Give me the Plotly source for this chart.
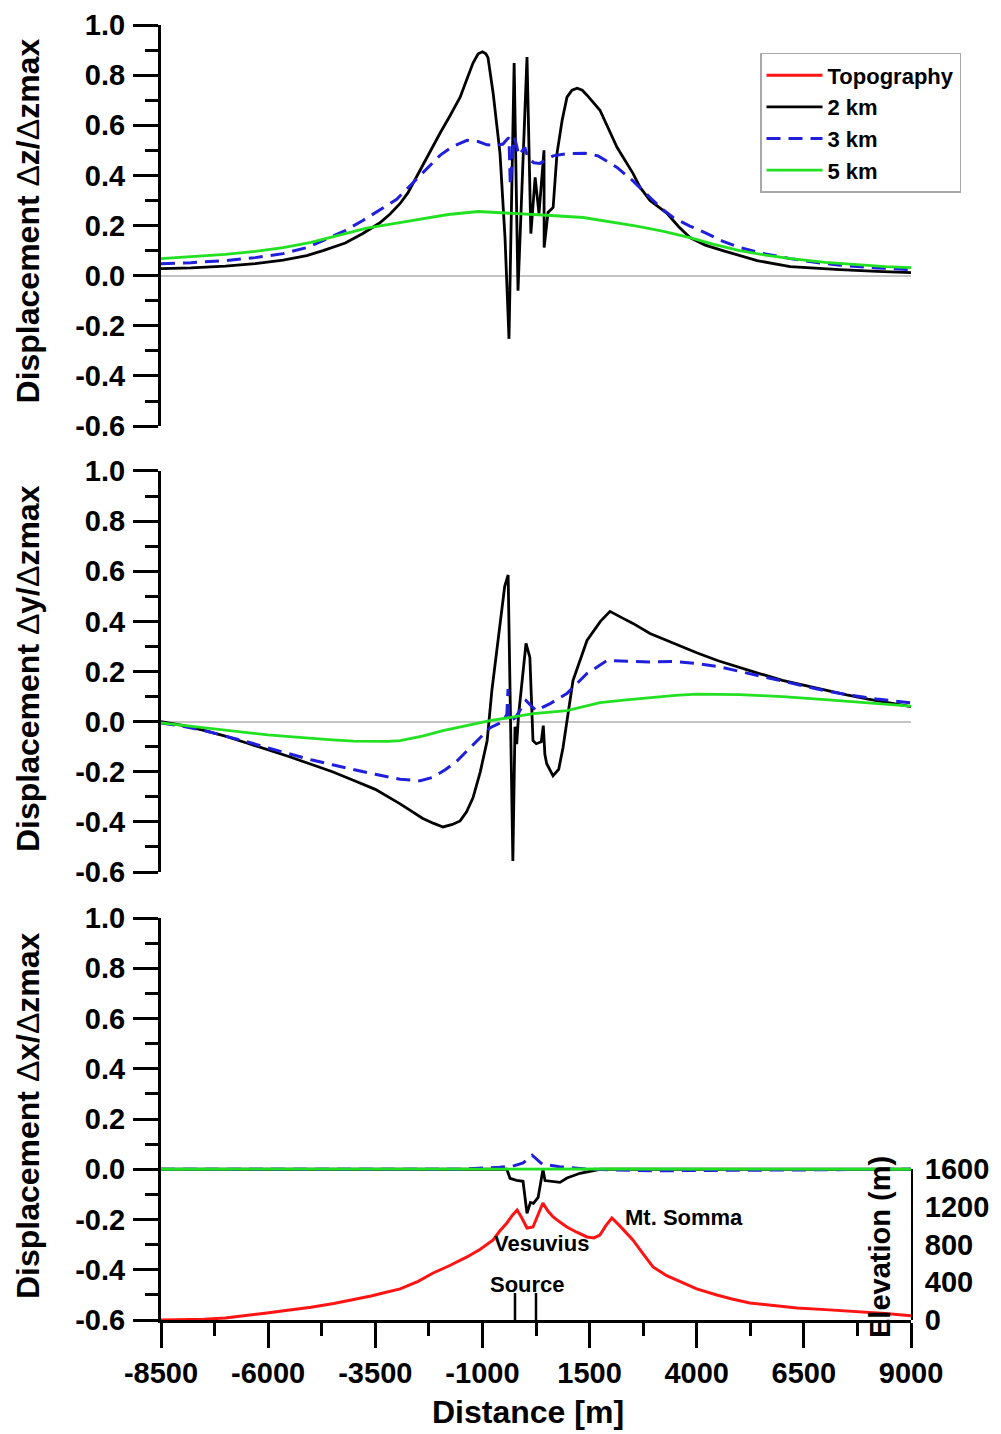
import plotly.graph_objects as go

# ---------------- tick labels ----------------
x_tickvals = [-8500, -6000, -3500, -1000, 1500, 4000, 6500, 9000]
x_ticktext = ["-8500", "-6000", "-3500", "-1000", "1500", "4000", "6500", "9000"]
y_tickvals = [-0.6, -0.4, -0.2, 0.0, 0.2, 0.4, 0.6, 0.8, 1.0]
y_ticktext = ["-0.6", "-0.4", "-0.2", "0.0", "0.2", "0.4", "0.6", "0.8", "1.0"]
elev_tickvals = [0, 400, 800, 1200, 1600]
elev_ticktext = ["0", "400", "800", "1200", "1600"]

series_names = ["Topography", "2 km", "3 km", "5 km"]

# ---------------- panel 1 : dz / dzmax ----------------
dz_2km_x = [-8500, -7800, -7000, -6300, -5650, -5100, -4720, -4200, -3790, -3400, -3160, -2920, -2740,
            -2460, -2200, -1990, -1750, -1520, -1350, -1220, -1100, -1000, -920, -870, -750, -590,
            -473, -380, -260, -170, 40, 130, 230, 320, 437, 440, 530, 650, 740, 860, 973, 1090, 1210,
            1330, 1440, 1743, 2140, 2513, 2680, 2910, 3310, 3580, 3840, 4200, 4610, 5000, 5410, 6180,
            6800, 7340, 8200, 9000]
dz_2km_y = [0.028, 0.031, 0.038, 0.048, 0.062, 0.080, 0.100, 0.130, 0.168, 0.210, 0.245, 0.288, 0.330,
            0.420, 0.500, 0.568, 0.640, 0.712, 0.790, 0.848, 0.885, 0.893, 0.885, 0.870, 0.728, 0.488,
            0.152, -0.252, 0.848, -0.060, 0.872, 0.168, 0.392, 0.248, 0.500, 0.112, 0.252, 0.272,
            0.488, 0.620, 0.712, 0.740, 0.748, 0.740, 0.720, 0.660, 0.512, 0.408, 0.352, 0.300, 0.248,
            0.195, 0.152, 0.122, 0.100, 0.079, 0.060, 0.036, 0.028, 0.024, 0.017, 0.012]

dz_3km_x = [-8500, -7800, -7000, -6300, -5650, -5100, -4720, -4200, -3790, -3400, -3000, -2740, -2460,
            -2200, -1990, -1700, -1360, -1100, -890, -650, -520, -420, -380, -350, -320, -280, -250,
            -150, -10, 60, 200, 340, 650, 1000, 1400, 1700, 2140, 2500, 2910, 3200, 3450, 3840, 4240,
            4600, 5010, 5600, 6180, 6800, 7340, 8200, 9000]
dz_3km_y = [0.048, 0.052, 0.060, 0.072, 0.088, 0.112, 0.140, 0.180, 0.220, 0.262, 0.305, 0.350, 0.400,
            0.445, 0.480, 0.515, 0.540, 0.535, 0.522, 0.520, 0.525, 0.545, 0.550, 0.360, 0.450, 0.520,
            0.552, 0.480, 0.512, 0.470, 0.450, 0.448, 0.478, 0.487, 0.488, 0.478, 0.432, 0.380, 0.312,
            0.265, 0.232, 0.198, 0.168, 0.138, 0.112, 0.087, 0.068, 0.052, 0.042, 0.031, 0.024]

dz_5km_x = [-8500, -7800, -7000, -6300, -5650, -5000, -4300, -3700, -3000, -2400, -1800, -1100, -600,
            0, 600, 1350, 2000, 2600, 3200, 3840, 4400, 5000, 5600, 6200, 7000, 7700, 8400, 9000]
dz_5km_y = [0.068, 0.075, 0.085, 0.097, 0.112, 0.133, 0.165, 0.190, 0.210, 0.228, 0.244, 0.256, 0.252,
            0.246, 0.240, 0.232, 0.215, 0.198, 0.178, 0.152, 0.125, 0.100, 0.082, 0.068, 0.053, 0.043,
            0.036, 0.032]

# ---------------- panel 2 : dy / dzmax ----------------
dy_2km_x = [-8500, -8000, -7500, -7000, -6500, -6000, -5500, -5000, -4500, -4000, -3500, -2920, -2400,
            -2150, -1920, -1700, -1520, -1370, -1220, -1050, -890, -780, -590, -480, -400, -290,
            -240, -200, -160, 17, 107, 180, 257, 373, 420, 457, 500, 647, 780, 880, 1113, 1440, 1753,
            1977, 2250, 2513, 2910, 3500, 4000, 4500, 5000, 5500, 6000, 6500, 7000, 7500, 8000, 8500, 9000]
dy_2km_y = [0.000, -0.015, -0.035, -0.058, -0.085, -0.112, -0.140, -0.170, -0.200, -0.235, -0.270,
            -0.328, -0.385, -0.405, -0.420, -0.410, -0.396, -0.360, -0.304, -0.200, -0.076, 0.124,
            0.392, 0.540, 0.585, -0.556, -0.020, -0.090, 0.020, 0.312, 0.256, -0.076, -0.088,
            -0.080, -0.016, -0.130, -0.168, -0.216, -0.190, -0.104, 0.164, 0.324, 0.400, 0.440, 0.415,
            0.392, 0.352, 0.310, 0.275, 0.243, 0.215, 0.190, 0.165, 0.145, 0.125, 0.107, 0.090, 0.075, 0.060]

dy_3km_x = [-8500, -8000, -7500, -7000, -6500, -6000, -5500, -5000, -4500, -4000, -3500, -2920, -2450,
            -2150, -1850, -1590, -1350, -1130, -820, -520, -430, -403, -380, -230, 20, 250, 580, 970,
            1440, 1910, 2300, 2910, 3500, 4000, 4500, 5000, 5500, 6000, 6500, 7000, 7500, 8200, 9000]
dy_3km_y = [-0.005, -0.018, -0.035, -0.056, -0.080, -0.105, -0.130, -0.152, -0.172, -0.192, -0.210,
            -0.230, -0.236, -0.222, -0.190, -0.156, -0.115, -0.076, -0.024, 0.000, 0.030, 0.130, 0.000,
            0.016, 0.084, 0.044, 0.072, 0.112, 0.192, 0.244, 0.242, 0.238, 0.240, 0.232, 0.220, 0.200,
            0.180, 0.160, 0.140, 0.123, 0.108, 0.090, 0.075]

dy_5km_x = [-8500, -8000, -7500, -7000, -6500, -6000, -5500, -5000, -4500, -4000, -3600, -3200, -2920,
            -2400, -1920, -1400, -823, -300, 180, 973, 1350, 1743, 2300, 2910, 3500, 4000, 4500, 5000,
            5500, 6000, 7000, 8000, 9000]
dy_5km_y = [-0.005, -0.015, -0.025, -0.035, -0.045, -0.053, -0.060, -0.067, -0.073, -0.078, -0.080,
            -0.079, -0.076, -0.058, -0.036, -0.016, 0.004, 0.018, 0.032, 0.044, 0.060, 0.076, 0.086,
            0.096, 0.105, 0.110, 0.110, 0.108, 0.104, 0.100, 0.088, 0.075, 0.062]

# ---------------- panel 3 : dx / dzmax ----------------
dx_2km_x = [-8500, -2000, -430, -357, -200, -53, 40, 120, 190, 300, 413, 460, 810, 973, 1277, 1743, 9000]
dx_2km_y = [0.000, 0.000, 0.000, -0.036, -0.044, -0.048, -0.175, -0.132, -0.136, -0.112, 0.000,
            -0.045, -0.052, -0.035, -0.016, 0.000, 0.000]

dx_3km_x = [-8500, -1500, -600, -300, -50, 160, 400, 800, 1500, 3000, 5000, 9000]
dx_3km_y = [0.000, 0.000, 0.008, 0.012, 0.025, 0.056, 0.020, 0.010, 0.000, -0.006, -0.004, 0.000]

dx_5km_x = [-8500, -2000, 0, 2000, 9000]
dx_5km_y = [0.000, 0.001, 0.003, 0.001, 0.000]

# ---------------- topography (elevation, m) ----------------
topo_x = [-8500, -8000, -7500, -7000, -6500, -6030, -5500, -5000, -4470, -4000, -3600, -3320, -2920,
          -2500, -2150, -1750, -1360, -1050, -750, -600, -430, -300, -190, -80, 40, 180, 300, 410,
          520, 650, 800, 970, 1200, 1440, 1600, 1740, 1880, 2020, 2200, 2510, 2750, 2980, 3300, 3680,
          4000, 4470, 4800, 5240, 5800, 6340, 7000, 7700, 8400, 9000]
topo_y = [0, 2, 8, 22, 45, 74, 105, 135, 175, 215, 255, 286, 330, 410, 498, 580, 668, 750, 848, 940,
          1028, 1110, 1166, 1080, 975, 986, 1120, 1240, 1160, 1092, 1040, 986, 930, 880, 870, 900,
          1000, 1081, 1000, 848, 700, 562, 470, 392, 330, 265, 225, 180, 150, 127, 110, 90, 70, 45]

source_x = [-240, 250]
source_top = 286

# ---------------- styles ----------------
FONT = "Liberation Sans"
BLACK = "#000000"
BLUE = "#1f1fdc"
GREEN = "#22e022"
RED = "#ff1414"

fig = go.Figure()

panels = [
    ("x", "y", (dz_2km_x, dz_2km_y), (dz_3km_x, dz_3km_y), (dz_5km_x, dz_5km_y), True),
    ("x2", "y2", (dy_2km_x, dy_2km_y), (dy_3km_x, dy_3km_y), (dy_5km_x, dy_5km_y), False),
    ("x3", "y3", (dx_2km_x, dx_2km_y), (dx_3km_x, dx_3km_y), (dx_5km_x, dx_5km_y), False),
]

fig.add_trace(go.Scatter(x=topo_x, y=topo_y, xaxis="x3", yaxis="y4", mode="lines",
                         name=series_names[0], line=dict(color=RED, width=3),
                         legendrank=1, showlegend=True))

for xa, ya, s2, s3, s5, show in panels:
    fig.add_trace(go.Scatter(x=s2[0], y=s2[1], xaxis=xa, yaxis=ya, mode="lines",
                             name=series_names[1], line=dict(color=BLACK, width=2.8),
                             legendrank=2, showlegend=show))
    fig.add_trace(go.Scatter(x=s3[0], y=s3[1], xaxis=xa, yaxis=ya, mode="lines",
                             name=series_names[2], line=dict(color=BLUE, width=3, dash="14px,8px"),
                             legendrank=3, showlegend=show))
    fig.add_trace(go.Scatter(x=s5[0], y=s5[1], xaxis=xa, yaxis=ya, mode="lines",
                             name=series_names[3], line=dict(color=GREEN, width=2.8),
                             legendrank=4, showlegend=show))

tick_font = dict(family=FONT, size=29, color="black", weight="bold")

y_minor = [round((a + b) / 2, 2) for a, b in zip(y_tickvals[:-1], y_tickvals[1:])]
x_minor = [(a + b) / 2 for a, b in zip(x_tickvals[:-1], x_tickvals[1:])]

def yaxis_cfg(domain):
    return dict(domain=domain, range=[-0.6, 1.0], tickmode="array", tickvals=y_tickvals,
                ticktext=y_ticktext, ticks="outside", ticklen=25, tickwidth=3, tickcolor="black",
                showline=True, linewidth=3, linecolor="black", showgrid=False, automargin=False,
                zeroline=True, zerolinecolor="#c4c4c4", zerolinewidth=1.5,
                tickfont=tick_font, ticklabelstandoff=2,
                minor=dict(tickmode="array", tickvals=y_minor, ticks="outside", ticklen=13,
                           tickwidth=3, tickcolor="black", showgrid=False))

def xaxis_hidden(anchor):
    return dict(anchor=anchor, domain=[0, 1], range=[-8500, 9000], showline=False, automargin=False,
                showticklabels=False, ticks="", showgrid=False, zeroline=False)

# page body has an 8px default margin -> figure 993x1426 fills the 1001x1434 window
fig.update_layout(
    template="none",
    width=993, height=1426,
    margin=dict(l=153, r=90, t=17, b=114, autoexpand=False),
    paper_bgcolor="white", plot_bgcolor="rgba(0,0,0,0)",
    font=dict(family=FONT, color="black"),
    xaxis=xaxis_hidden("y"),
    xaxis2=xaxis_hidden("y2"),
    xaxis3=dict(anchor="y3", domain=[0, 1], range=[-8500, 9000], tickmode="array",
                tickvals=x_tickvals, ticktext=x_ticktext, ticks="outside", ticklen=25,
                tickwidth=3, tickcolor="black", showline=True, linewidth=3, linecolor="black",
                showgrid=False, zeroline=False, tickfont=tick_font, ticklabelstandoff=0,
                automargin=False,
                minor=dict(tickmode="array", tickvals=x_minor, ticks="outside", ticklen=13,
                           tickwidth=3, tickcolor="black", showgrid=False)),
    yaxis=dict(anchor="x", **yaxis_cfg([0.6903, 1.0])),
    yaxis2=dict(anchor="x2", **yaxis_cfg([0.3459, 0.6556])),
    yaxis3=dict(anchor="x3", **yaxis_cfg([0.0, 0.3104])),
    yaxis4=dict(anchor="x3", side="right", domain=[0.0, 0.1166], range=[0, 1600],
                tickmode="array", tickvals=elev_tickvals, ticktext=elev_ticktext, ticks="",
                showline=True, linewidth=2, linecolor="black", showgrid=False, zeroline=False,
                tickfont=tick_font, ticklabelstandoff=6, automargin=False),
    legend=dict(x=0.7987, y=0.9784, xanchor="left", yanchor="top", bgcolor="white",
                bordercolor="#a8a8a8", borderwidth=1.5, itemwidth=56,
                font=dict(family=FONT, size=22, color="black", weight="bold"),
                traceorder="normal"),
    showlegend=True,
)

title_font = dict(family=FONT, size=32, color="black")
ytitles = [("<b>Displacement </b>Δ<b>z/</b>Δ<b>zmax</b>", 0.8483),
           ("<b>Displacement </b>Δ<b>y/</b>Δ<b>zmax</b>", 0.5027),
           ("<b>Displacement </b>Δ<b>x/</b>Δ<b>zmax</b>", 0.1575)]
for txt, yc in ytitles:
    fig.add_annotation(text=txt, xref="paper", yref="paper", x=-0.1773, y=yc,
                       xanchor="center", yanchor="middle", textangle=-90,
                       showarrow=False, font=title_font)

fig.add_annotation(text="<b>Distance [m]</b>", xref="paper", yref="paper", x=0.4893, y=-0.0711,
                   xanchor="center", yanchor="middle", showarrow=False, font=title_font)

fig.add_annotation(text="<b>Elevation (m)</b>", xref="paper", yref="paper", x=0.9587, y=0.0564,
                   xanchor="center", yanchor="middle", textangle=-90, showarrow=False,
                   font=dict(family=FONT, size=29, color="black"))

label_font = dict(family=FONT, size=22, color="black", weight="bold")
fig.add_annotation(text="Mt. Somma", xref="x3", yref="y4", x=3703, y=1081,
                   xanchor="center", yanchor="middle", showarrow=False, font=label_font)
fig.add_annotation(text="Vesuvius", xref="x3", yref="y4", x=367, y=806,
                   xanchor="center", yanchor="middle", showarrow=False, font=label_font)
fig.add_annotation(text="Source", xref="x3", yref="y4", x=63, y=371,
                   xanchor="center", yanchor="middle", showarrow=False, font=label_font)

for sx in source_x:
    fig.add_shape(type="line", xref="x3", yref="y4", x0=sx, x1=sx, y0=0, y1=source_top,
                  line=dict(color="black", width=2.5))

fig.write_html("out.html")
